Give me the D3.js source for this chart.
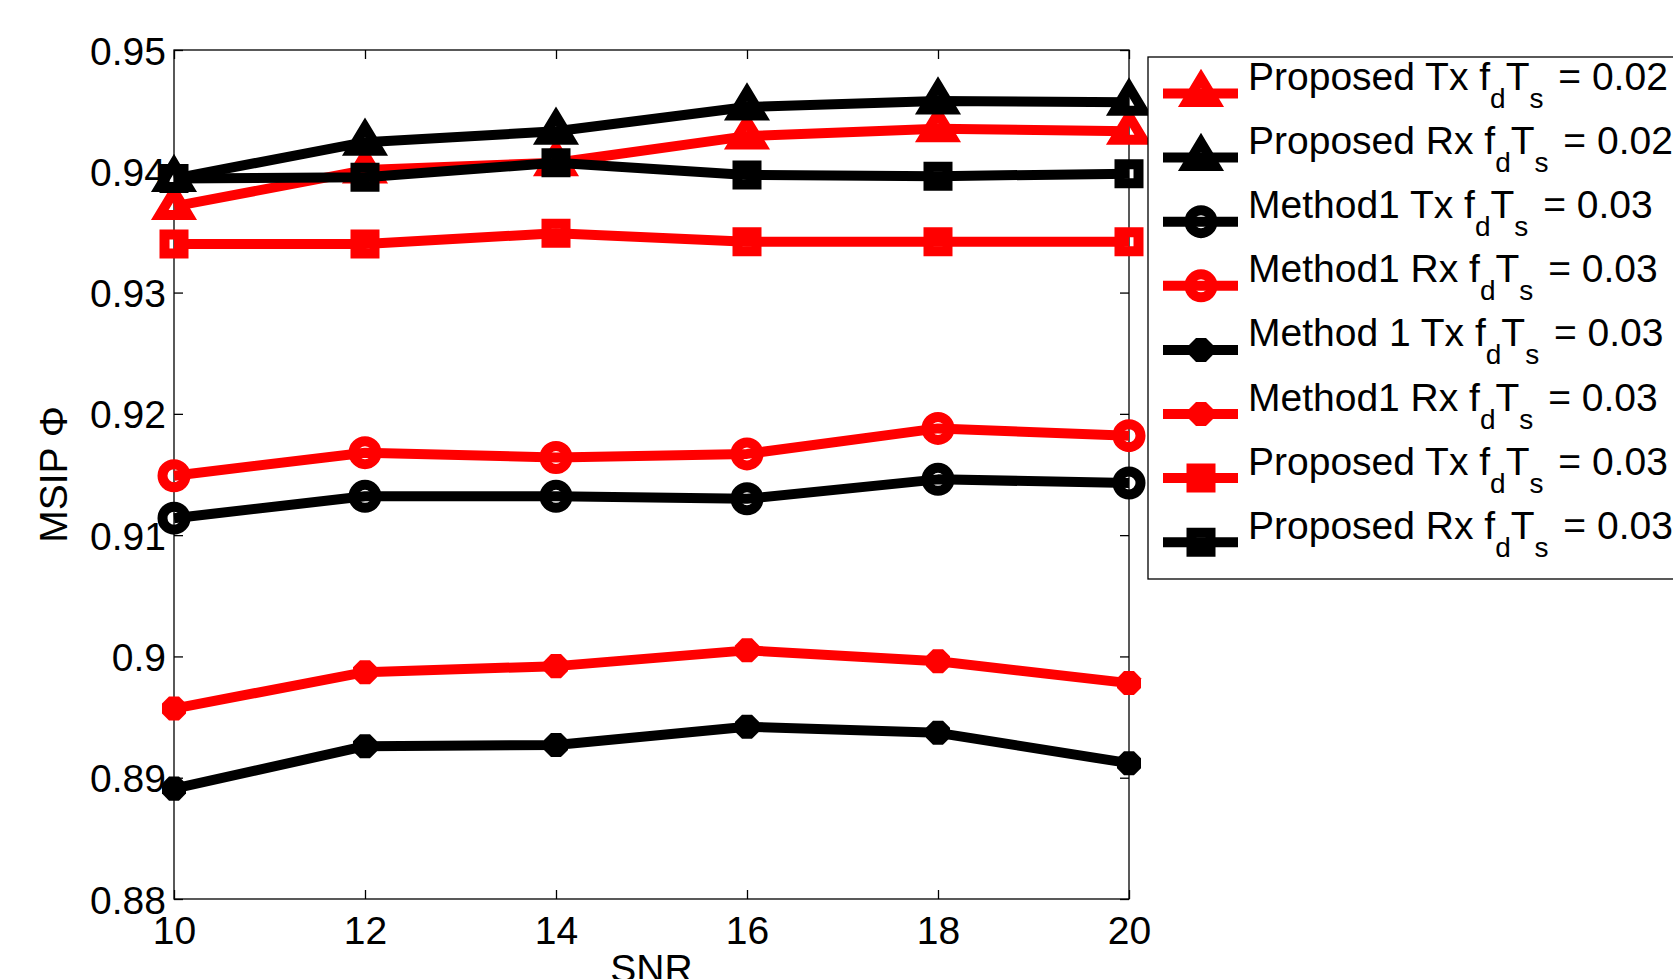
<!DOCTYPE html>
<html>
<head>
<meta charset="utf-8">
<script src="https://cdn.jsdelivr.net/npm/d3@7"></script>
<style>
  html, body { margin: 0; padding: 0; background: #fff; overflow: hidden; }
  svg { display: block; }
  text { font-family: "Liberation Sans", Arial, Helvetica, sans-serif; fill: #000; }
</style>
</head>
<body>
<svg id="chart" width="1673" height="979"></svg>
<script>
// SNR values on the x axis
const snr = [10, 12, 14, 16, 18, 20];

// MSIP values per method
const proposedTx002 = [0.9371, 0.9401, 0.9407, 0.9429, 0.9435, 0.9433];
const proposedRx002 = [0.9394, 0.9424, 0.9433, 0.9453, 0.9458, 0.9457];
const method1TxOpen003 = [0.9114, 0.9132, 0.9132, 0.9130, 0.9146, 0.9143];
const method1RxOpen003 = [0.9149, 0.9168, 0.9164, 0.9167, 0.9188, 0.9182];
const method1TxFilled003 = [0.8891, 0.8926, 0.8927, 0.8942, 0.8937, 0.8912];
const method1RxFilled003 = [0.8957, 0.8987, 0.8992, 0.9005, 0.8996, 0.8978];
const proposedTx003 = [0.9340, 0.9340, 0.9349, 0.9342, 0.9342, 0.9342];
const proposedRx003 = [0.9394, 0.9395, 0.9407, 0.9397, 0.9396, 0.9398];

// Legend labels: prefix before the f_d T_s term, and the fdTs value
const legendPrefixes = ["Proposed Tx f", "Proposed Rx f", "Method1 Tx f", "Method1 Rx f",
                        "Method 1 Tx f", "Method1 Rx f", "Proposed Tx f", "Proposed Rx f"];
const legendValues = ["0.02", "0.02", "0.03", "0.03", "0.03", "0.03", "0.03", "0.03"];

// Axis ticks
const xTicks = [10, 12, 14, 16, 18, 20];
const yTicks = [0.88, 0.89, 0.90, 0.91, 0.92, 0.93, 0.94, 0.95];
const yTickLabels = ["0.88", "0.89", "0.9", "0.91", "0.92", "0.93", "0.94", "0.95"];

const RED = "#ff0000", BLACK = "#000000";
const LW = 10;

// Marker shapes (custom d3.symbol types), stroked with the line width
const triangle = { draw(c) { c.moveTo(0, -15.1); c.lineTo(14.2, 8.5); c.lineTo(-14.2, 8.5); c.closePath(); } };
const ring = { draw(c) { c.moveTo(11.5, 0); c.arc(0, 0, 11.5, 0, 2 * Math.PI); c.closePath(); } };
const square = { draw(c) { c.rect(-9.5, -9.5, 19, 19); } };
const octagon = { draw(c) {
  const R = 13;
  for (let i = 0; i < 8; i++) {
    const a = Math.PI / 8 + i * Math.PI / 4;
    const px = R * Math.cos(a), py = R * Math.sin(a);
    if (i === 0) c.moveTo(px, py); else c.lineTo(px, py);
  }
  c.closePath();
} };

const series = [
  { values: proposedTx002,      color: RED,   shape: triangle, filled: false },
  { values: proposedRx002,      color: BLACK, shape: triangle, filled: false },
  { values: method1TxOpen003,   color: BLACK, shape: ring,     filled: false },
  { values: method1RxOpen003,   color: RED,   shape: ring,     filled: false },
  { values: method1TxFilled003, color: BLACK, shape: octagon,  filled: true },
  { values: method1RxFilled003, color: RED,   shape: octagon,  filled: true },
  { values: proposedTx003,      color: RED,   shape: square,   filled: false },
  { values: proposedRx003,      color: BLACK, shape: square,   filled: false }
];

const svg = d3.select("#chart");
const plotL = 174, plotR = 1129, plotT = 50, plotB = 899;

const x = d3.scaleLinear().domain([10, 20]).range([plotL, plotR]);
const y = d3.scaleLinear().domain([0.88, 0.95]).range([plotB, plotT]);

const FS = 39;

// Axes with inward ticks on all four sides
const axisStyle = g => {
  g.selectAll(".domain").remove();
  g.selectAll(".tick line").attr("stroke", "#000").attr("stroke-width", 1.3);
  g.selectAll(".tick text").attr("font-size", FS).attr("font-family", null);
};

svg.append("g").attr("transform", `translate(${plotL},0)`)
  .call(d3.axisLeft(y).tickValues(yTicks).tickSizeInner(-9).tickSizeOuter(0).tickPadding(8)
    .tickFormat((d, i) => yTickLabels[i]))
  .call(axisStyle)
  .call(g => g.selectAll(".tick text").attr("dy", "0.36em"));

svg.append("g").attr("transform", `translate(${plotR},0)`)
  .call(d3.axisRight(y).tickValues(yTicks).tickSizeInner(-9).tickSizeOuter(0).tickFormat(""))
  .call(axisStyle);

svg.append("g").attr("transform", `translate(0,${plotB})`)
  .call(d3.axisBottom(x).tickValues(xTicks).tickSizeInner(-9).tickSizeOuter(0).tickPadding(17)
    .tickFormat(d3.format("d")))
  .call(axisStyle);

svg.append("g").attr("transform", `translate(0,${plotT})`)
  .call(d3.axisTop(x).tickValues(xTicks).tickSizeInner(-9).tickSizeOuter(0).tickFormat(""))
  .call(axisStyle);

// Axes box
svg.append("rect")
  .attr("x", plotL).attr("y", plotT).attr("width", plotR - plotL).attr("height", plotB - plotT)
  .attr("fill", "none").attr("stroke", "#000").attr("stroke-width", 1.3);

// Axis titles
svg.append("text")
  .attr("x", (plotL + plotR) / 2).attr("y", 982)
  .attr("text-anchor", "middle").attr("font-size", FS)
  .text("SNR");

svg.append("text")
  .attr("transform", `translate(67,${(plotT + plotB) / 2}) rotate(-90)`)
  .attr("text-anchor", "middle").attr("font-size", FS)
  .text("MSIP Φ");

// Lines and markers
const line = d3.line().x(d => x(d.x)).y(d => y(d.y));

function styleMarker(sel, s) {
  sel.attr("d", d3.symbol().type(s.shape))
    .attr("fill", s.filled ? s.color : "none")
    .attr("stroke", s.filled ? "none" : s.color)
    .attr("stroke-width", LW)
    .attr("stroke-linejoin", "miter");
}

series.forEach(s => {
  const pts = snr.map((v, i) => ({ x: v, y: s.values[i] }));
  const g = svg.append("g");
  g.append("path").datum(pts)
    .attr("d", line)
    .attr("fill", "none").attr("stroke", s.color).attr("stroke-width", LW)
    .attr("stroke-linejoin", "round");
  g.selectAll("path.marker").data(pts).enter().append("path")
    .attr("class", "marker")
    .attr("transform", d => `translate(${x(d.x)},${y(d.y)})`)
    .call(styleMarker, s);
});

// Legend
const legX = 1148, legY = 57, legH = 522, rowStart = 93.5, rowStep = 64.1;
const legend = svg.append("g");
legend.append("rect")
  .attr("x", legX).attr("y", legY).attr("width", 700).attr("height", legH)
  .attr("fill", "#fff").attr("stroke", "#000").attr("stroke-width", 1.3);

series.forEach((s, i) => {
  const cy = rowStart + i * rowStep;
  const row = legend.append("g").attr("transform", `translate(0,${cy})`);
  row.append("line")
    .attr("x1", 1163).attr("x2", 1238).attr("y1", 0).attr("y2", 0)
    .attr("stroke", s.color).attr("stroke-width", LW);
  row.append("path")
    .attr("transform", "translate(1201,0)")
    .call(styleMarker, s);
  const t = row.append("text").attr("x", 1248).attr("y", -3.5).attr("font-size", FS);
  t.append("tspan").text(legendPrefixes[i]);
  t.append("tspan").attr("font-size", 28).attr("dy", 18).text("d");
  t.append("tspan").attr("font-size", FS).attr("dy", -18).text("T");
  t.append("tspan").attr("font-size", 28).attr("dy", 18).text("s");
  t.append("tspan").attr("font-size", FS).attr("dy", -18).attr("dx", 4).text("\u00a0= " + legendValues[i]);
});
</script>
</body>
</html>
